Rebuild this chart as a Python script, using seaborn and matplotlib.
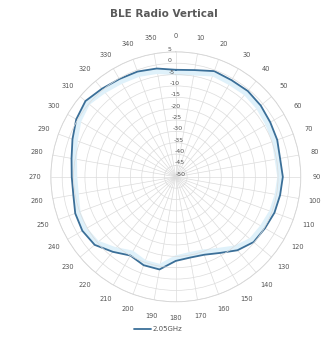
import numpy as np
import matplotlib
matplotlib.use("Agg")
import matplotlib.pyplot as plt
import seaborn as sns

angles = [0, 10, 20, 30, 40, 50, 60, 70, 80, 90, 100, 110,
          120, 130, 140, 150, 160, 170, 180, 190, 200, 210, 220, 230,
          240, 250, 260, 270, 280, 290, 300, 310, 320, 330, 340, 350]
level = [-2.9, -2.3, -0.5, -0.9, -0.7, -1.2, -2.0, -2.5, -3.4, -2.9, -3.4, -3.8,
         -4.7, -5.3, -7.8, -11.3, -13.5, -13.9, -13.0, -8.6, -8.6, -10.0, -6.9, -3.4,
         -2.5, -2.9, -4.2, -4.2, -3.4, -1.6, 0.6, 1.9, 0.6, -0.3, -0.7, -1.6]
r_ticks = list(range(-50, 6, 5))
series_name = "2.05GHz"

sns.set_style("white")
plt.rcParams["font.family"] = ["DejaVu Sans"]

fig = plt.figure(figsize=(3.28, 3.43), dpi=100)
ax = fig.add_axes([0.155, 0.12, 0.762, 0.729], projection="polar")
ax.set_theta_zero_location("N")
ax.set_theta_direction(-1)

# close the loop at 360 deg
theta = np.deg2rad(angles + [360])
vals = level + [level[0]]

# faint glow under the line
ax.plot(theta, np.array(vals) - 1.2, color="#dff1fa", lw=4, zorder=2)
sns.lineplot(x=theta, y=vals, ax=ax, sort=False, estimator=None,
             color="#3b6f98", lw=1.3, label=series_name, zorder=3)

ax.set_ylim(-50, 5)
ax.set_yticks(r_ticks)
ax.set_yticklabels([str(t) for t in r_ticks], fontsize=4.5, color="#555555")
ax.set_rlabel_position(-4)
ax.yaxis.set_zorder(4)
ax.set_xticks(np.deg2rad(angles))
ax.set_xticklabels([str(a) for a in angles], fontsize=4.8, color="#555555")
ax.tick_params(axis="x", pad=1)
ax.grid(True, color="#dcdcdc", lw=0.5)
ax.spines["polar"].set_color("#d0d0d0")
ax.spines["polar"].set_linewidth(0.6)
ax.set_xlabel("")
ax.set_ylabel("")

fig.suptitle("BLE Radio Vertical", fontsize=7.5, fontweight="bold",
             color="#595959", y=0.975)
ax.legend(loc="center", bbox_to_anchor=(0.43, -0.11), frameon=False,
          fontsize=5, handlelength=2.5, handletextpad=0.2,
          labelcolor="#555555")

fig.savefig("out.png", dpi=100)
